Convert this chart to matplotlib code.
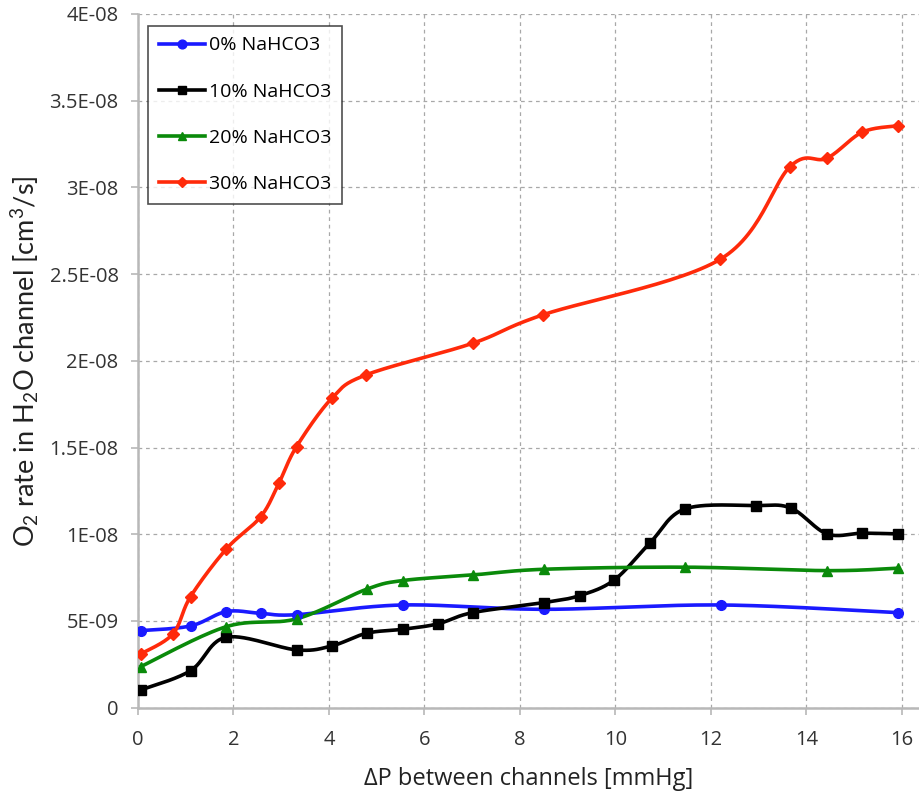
import numpy as np
import matplotlib
matplotlib.use("Agg")
import matplotlib.pyplot as plt
from matplotlib.ticker import FixedLocator, FixedFormatter

# data (x in mmHg, y in cm3/s)
x_0 = [0.06, 1.10, 1.85, 2.57, 3.32, 5.55, 8.51, 12.21, 15.91]
y_0 = [4.44e-9, 4.71e-9, 5.54e-9, 5.44e-9, 5.36e-9, 5.92e-9, 5.67e-9, 5.92e-9, 5.48e-9]

x_10 = [0.06, 1.10, 1.85, 3.32, 4.06, 4.79, 5.55, 6.28, 7.01, 8.51, 9.25, 9.98,
        10.73, 11.46, 12.94, 13.68, 14.43, 15.17, 15.91]
y_10 = [1.02e-9, 2.13e-9, 4.06e-9, 3.33e-9, 3.56e-9, 4.29e-9, 4.52e-9, 4.83e-9, 5.48e-9,
        6.06e-9, 6.46e-9, 7.37e-9, 9.52e-9, 1.146e-8, 1.165e-8, 1.150e-8, 1.002e-8,
        1.006e-8, 1.002e-8]

x_20 = [0.06, 1.85, 3.32, 4.79, 5.55, 7.01, 8.51, 11.46, 14.43, 15.91]
y_20 = [2.37e-9, 4.67e-9, 5.12e-9, 6.83e-9, 7.33e-9, 7.65e-9, 7.98e-9, 8.10e-9, 7.90e-9, 8.04e-9]

x_30 = [0.06, 0.73, 1.10, 1.85, 2.57, 2.95, 3.32, 4.06, 4.78, 7.01, 8.48,
        12.20, 13.66, 14.43, 15.17, 15.91]
y_30 = [3.10e-9, 4.25e-9, 6.40e-9, 9.15e-9, 1.101e-8, 1.294e-8, 1.505e-8, 1.784e-8,
        1.919e-8, 2.101e-8, 2.265e-8, 2.586e-8, 3.120e-8, 3.168e-8, 3.318e-8, 3.355e-8]

labels = ["0% NaHCO3", "10% NaHCO3", "20% NaHCO3", "30% NaHCO3"]
colors = ["#1a1aff", "#000000", "#0a8a0a", "#ff2a0a"]
markers = ["o", "s", "^", "D"]

y_ticks = [0, 5e-9, 1e-8, 1.5e-8, 2e-8, 2.5e-8, 3e-8, 3.5e-8, 4e-8]
y_tick_labels = ["0", "5E-09", "1E-08", "1.5E-08", "2E-08", "2.5E-08", "3E-08", "3.5E-08", "4E-08"]
x_ticks = [0, 2, 4, 6, 8, 10, 12, 14, 16]


def smooth(xs, ys, n=30):
    # excel-like smoothed line (catmull-rom bezier)
    xs = np.asarray(xs, float)
    ys = np.asarray(ys, float)
    px = np.concatenate([[xs[0]], xs, [xs[-1]]])
    py = np.concatenate([[ys[0]], ys, [ys[-1]]])
    out_x, out_y = [], []
    t = np.linspace(0, 1, n)
    for i in range(1, len(px) - 2):
        p0 = np.array([px[i], py[i]])
        p3 = np.array([px[i + 1], py[i + 1]])
        p1 = p0 + (np.array([px[i + 1], py[i + 1]]) - np.array([px[i - 1], py[i - 1]])) / 6
        p2 = p3 - (np.array([px[i + 2], py[i + 2]]) - np.array([px[i], py[i]])) / 6
        b = ((1 - t) ** 3)[:, None] * p0 + (3 * (1 - t) ** 2 * t)[:, None] * p1 \
            + (3 * (1 - t) * t ** 2)[:, None] * p2 + (t ** 3)[:, None] * p3
        out_x.extend(b[:, 0])
        out_y.extend(b[:, 1])
    return out_x, out_y


plt.rcParams['font.family'] = ['Open Sans', 'DejaVu Sans']
plt.rcParams['mathtext.default'] = 'regular'

fig = plt.figure(figsize=(9.2, 7.96), dpi=100)
ax = fig.add_axes([0.15, 0.111, 0.85, 0.8715])

series = [(x_0, y_0), (x_10, y_10), (x_20, y_20), (x_30, y_30)]
for (xs, ys), lab, c, m in zip(series, labels, colors, markers):
    sx, sy = smooth(xs, ys)
    ax.plot(sx, sy, color=c, lw=2.6, zorder=3)
    ms = 6 if m == "D" else 7
    ax.plot(xs, ys, linestyle="none", marker=m, color=c, ms=ms, zorder=4)
    ax.plot([], [], color=c, lw=2.6, marker=m, ms=ms, label=lab)

ax.set_xlim(0, 16.38)
ax.set_ylim(0, 4e-8)
ax.yaxis.set_major_locator(FixedLocator(y_ticks))
ax.yaxis.set_major_formatter(FixedFormatter(y_tick_labels))
ax.set_xticks(x_ticks)
ax.set_xticklabels([str(v) for v in x_ticks])

ax.grid(True, color="#a8a8a8", linestyle=(0, (3, 3)), linewidth=0.9)
ax.set_axisbelow(True)
for s in ["top", "right"]:
    ax.spines[s].set_visible(False)
for s in ["left", "bottom"]:
    ax.spines[s].set_color("#b8b8b8")
    ax.spines[s].set_linewidth(1.8)
ax.tick_params(axis="both", direction="out", length=5, color="#b8b8b8", width=1.2,
               labelsize=14.5, labelcolor="#333333")
ax.tick_params(axis="x", pad=11)
ax.tick_params(axis="y", pad=9)

ax.set_xlabel("ΔP between channels [mmHg]", fontsize=17, color="#222222", labelpad=12)
ax.set_ylabel("O$_2$ rate in H$_2$O channel [cm$^3$/s]", fontsize=19.5, color="#222222",
              family=["Lato", "DejaVu Sans"], labelpad=6)

leg = ax.legend(loc="upper left", bbox_to_anchor=(0.0128, 0.983), borderaxespad=0,
                fontsize=14, frameon=True, fancybox=False, edgecolor="#222222",
                labelspacing=1.45, handlelength=2.4, handletextpad=0.2,
                borderpad=0.55, markerscale=0.9)
leg.get_frame().set_linewidth(1.2)

fig.savefig("out.png", dpi=100)
